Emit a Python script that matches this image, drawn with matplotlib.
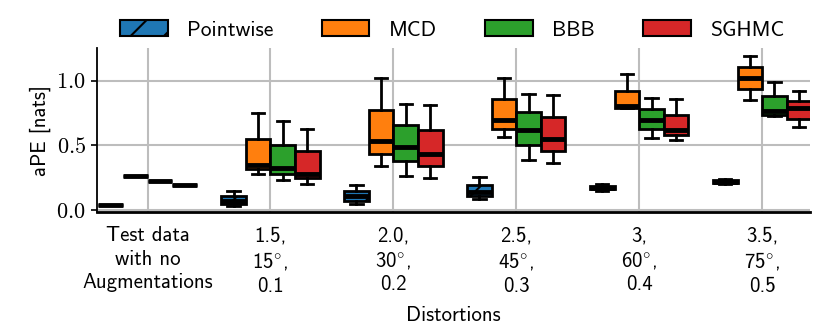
import matplotlib
matplotlib.use("Agg")
import matplotlib.pyplot as plt
from matplotlib.patches import Patch

# categories on the x axis
categories = [
    "Test data\nwith no\nAugmentations",
    "1.5,\n15$^{\\circ}$,\n0.1",
    "2.0,\n30$^{\\circ}$,\n0.2",
    "2.5,\n45$^{\\circ}$,\n0.3",
    "3,\n60$^{\\circ}$,\n0.4",
    "3.5,\n75$^{\\circ}$,\n0.5",
]
methods = ["Pointwise", "MCD", "BBB", "SGHMC"]
colors = ["#1f77b4", "#ff7f0e", "#2ca02c", "#d62728"]

# five number summaries per category: whislo, q1, median, q3, whishi
pointwise = [
    [0.038, 0.038, 0.038, 0.038, 0.038],
    [0.030, 0.050, 0.070, 0.108, 0.146],
    [0.046, 0.072, 0.110, 0.150, 0.197],
    [0.085, 0.108, 0.141, 0.195, 0.254],
    [0.145, 0.160, 0.170, 0.185, 0.200],
    [0.200, 0.210, 0.220, 0.230, 0.240],
]
mcd = [
    [0.260, 0.260, 0.260, 0.260, 0.260],
    [0.277, 0.320, 0.350, 0.550, 0.750],
    [0.338, 0.436, 0.536, 0.774, 1.018],
    [0.564, 0.630, 0.697, 0.856, 1.018],
    [0.785, 0.790, 0.800, 0.923, 1.051],
    [0.849, 0.933, 1.020, 1.108, 1.187],
]
bbb = [
    [0.228, 0.228, 0.228, 0.228, 0.228],
    [0.236, 0.280, 0.325, 0.505, 0.685],
    [0.267, 0.380, 0.487, 0.654, 0.820],
    [0.390, 0.500, 0.615, 0.754, 0.897],
    [0.554, 0.626, 0.697, 0.777, 0.869],
    [0.730, 0.738, 0.762, 0.877, 0.992],
]
sghmc = [
    [0.195, 0.195, 0.195, 0.195, 0.195],
    [0.205, 0.250, 0.280, 0.454, 0.628],
    [0.246, 0.338, 0.436, 0.620, 0.808],
    [0.367, 0.456, 0.549, 0.718, 0.890],
    [0.538, 0.577, 0.615, 0.736, 0.856],
    [0.641, 0.705, 0.787, 0.846, 0.923],
]
all_stats = [pointwise, mcd, bbb, sghmc]

plt.rcParams["mathtext.fontset"] = "cm"
plt.rcParams["font.family"] = ["cmss10", "DejaVu Sans"]
plt.rcParams["axes.unicode_minus"] = False
plt.rcParams["hatch.linewidth"] = 1.5

FS = 15

fig = plt.figure(figsize=(8.3, 3.32), dpi=100)
ax = fig.add_axes([0.117, 0.361, 0.859, 0.494])

width = 0.2
offsets = [-0.3, -0.1, 0.1, 0.3]
for m, (stats, col, off) in enumerate(zip(all_stats, colors, offsets)):
    bxp_stats = []
    for row in stats:
        bxp_stats.append(dict(whislo=row[0], q1=row[1], med=row[2],
                              q3=row[3], whishi=row[4], fliers=[]))
    pos = [i + off for i in range(len(categories))]
    bp = ax.bxp(bxp_stats, positions=pos, widths=width, patch_artist=True,
                showfliers=False, manage_ticks=False,
                boxprops=dict(linewidth=2.0, edgecolor="black", facecolor=col),
                medianprops=dict(linewidth=3.5, color="black"),
                whiskerprops=dict(linewidth=2.0, color="black"),
                capprops=dict(linewidth=2.0, color="black"))
    if methods[m] == "Pointwise":
        for b in bp["boxes"]:
            b.set_hatch("/")
    for b in bp["boxes"]:
        b.set_zorder(2)

ax.set_xticks(range(len(categories)))
ax.set_xticklabels(categories, fontsize=FS, linespacing=1.3)
ax.set_xlim(-0.41, 5.39)
ax.set_ylim(-0.015, 1.25)
ax.set_yticks([0, 0.5, 1.0])
ax.set_yticklabels([r"$0.0$", r"$0.5$", r"$1.0$"], fontsize=FS + 1)
ax.set_xlabel("Distortions", fontsize=FS, labelpad=7)
ax.set_ylabel("aPE [nats]", fontsize=FS, labelpad=4)

ax.grid(True, color="#bdbdbd", linewidth=1.5, zorder=0)
ax.set_axisbelow(True)
ax.spines["top"].set_visible(False)
ax.spines["right"].set_visible(False)
ax.spines["left"].set_linewidth(1.3)
ax.spines["bottom"].set_linewidth(2.0)
ax.tick_params(axis="x", length=0, pad=10)
ax.tick_params(axis="y", length=4, width=1.2, pad=4)

handles = []
for name, col in zip(methods, colors):
    handles.append(Patch(facecolor=col, edgecolor="black", linewidth=1.5,
                         hatch="/" if name == "Pointwise" else None,
                         label=name))
fig.legend(handles=handles, loc="center", bbox_to_anchor=(0.545, 0.91),
           ncol=4, frameon=False, fontsize=FS + 0.5, handlelength=2.2,
           handleheight=0.75, handletextpad=0.9, columnspacing=2.25)

fig.savefig("out.png", dpi=100)
